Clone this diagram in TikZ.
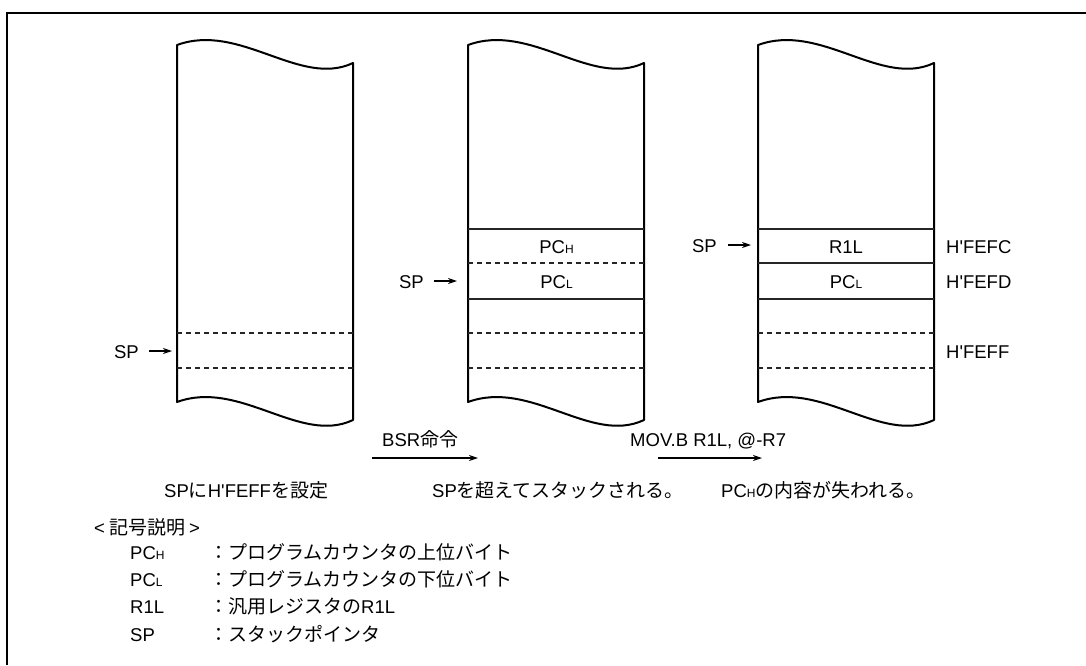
\documentclass[tikz,border=0pt]{standalone}
\usepackage{fontspec}
\newfontfamily\lsans{Liberation Sans}
\newfontfamily\cjk{Noto Sans CJK JP}
\usetikzlibrary{arrows.meta}
\newcommand\jp[1]{{\cjk\fontsize{19}{22}\selectfont #1}}
\newcommand\sub[1]{{\fontsize{12}{12}\selectfont #1}}
\tikzset{
  frame/.style={line width=2pt},
  colline/.style={line width=2pt, line join=round},
  solidrow/.style={line width=1.1pt, draw=black!85},
  dashrow/.style={line width=1.1pt, draw=black!85, dash pattern=on 5pt off 4pt},
  arr/.style={line width=1.1pt, -{Stealth[length=9pt,width=6pt]}},
  txt/.style={inner sep=0pt, font=\lsans\fontsize{18.5}{21}\selectfont},
}
\begin{document}
\begin{tikzpicture}[x=1pt,y=-1pt]
\useasboundingbox (0,0) rectangle (1086,665);
\draw[frame] (7,665) -- (7,13) -- (1086,13);

% columns
\foreach \dx/\n in {177/1,468/2,758/3}{
  \begin{scope}[xshift=\dx pt]
    \draw[colline] (0,402) -- (0,45) .. controls (63,22) and (123,88) .. (176,63)
      -- (176,420) .. controls (123,445) and (63,379) .. (0,402) -- cycle;
    \draw[dashrow] (0,333) -- (176,333);
    \draw[dashrow] (0,368) -- (176,368);
  \end{scope}
}
\begin{scope}[xshift=468pt]
  \draw[solidrow] (0,229) -- (176,229);
  \draw[dashrow] (0,263) -- (176,263);
  \draw[solidrow] (0,299) -- (176,299);
\end{scope}
\begin{scope}[xshift=758pt]
  \draw[solidrow] (0,229) -- (176,229);
  \draw[solidrow] (0,263) -- (176,263);
  \draw[solidrow] (0,299) -- (176,299);
\end{scope}

% SP pointers
\node[txt, anchor=base east] (sp1) at (139,358) {SP};
\coordinate (sp1a) at (149,351); \coordinate (sp1b) at (172,351);
\draw[arr] (sp1a) -- (sp1b);
\node[txt, anchor=base east] (sp2) at (424,288) {SP};
\coordinate (sp2a) at (434,281); \coordinate (sp2b) at (457,281);
\draw[arr] (sp2a) -- (sp2b);
\node[txt, anchor=base east] (sp3) at (717,252) {SP};
\coordinate (sp3a) at (728,245); \coordinate (sp3b) at (751,245);
\draw[arr] (sp3a) -- (sp3b);

% cell contents
\node[txt, anchor=base] (pch2) at (556.5,253) {PC\sub{H}};
\node[txt, anchor=base] (pcl2) at (556.5,288) {PC\sub{L}};
\node[txt, anchor=base] (r1l3) at (846,253) {R1L};
\node[txt, anchor=base] (pcl3) at (846,288) {PC\sub{L}};

% addresses
\node[txt, anchor=base west] (afc) at (946,253) {H'FEFC};
\node[txt, anchor=base west] (afd) at (946,288) {H'FEFD};
\node[txt, anchor=base west] (aff) at (946,358) {H'FEFF};

% transitions
\node[txt, anchor=base west] (bsr) at (382,446) {BSR\jp{命令}};
\coordinate (t1a) at (372,458); \coordinate (t1b) at (478,458);
\draw[arr] (t1a) -- (t1b);
\node[txt, anchor=base west] (mov) at (630,446) {MOV.B R1L, @-R7};
\coordinate (t2a) at (658,458); \coordinate (t2b) at (762,458);
\draw[arr] (t2a) -- (t2b);

% captions
\node[txt, anchor=base west] (c1) at (164,497) {SP\jp{に}H'FEFF\jp{を設定}};
\node[txt, anchor=base west] (c2) at (432,497) {SP\jp{を超えてスタックされる。}};
\node[txt, anchor=base west] (c3) at (721,497) {PC\sub{H}\jp{の内容が失われる。}};

% legend
\node[txt, anchor=base west] (lg) at (94,534) {<\hspace{4pt}\jp{記号説明}\hspace{4pt}>};
\node[txt, anchor=base west] (l1) at (130,559) {PC\sub{H}};
\node[txt, anchor=base west] (l2) at (130,586) {PC\sub{L}};
\node[txt, anchor=base west] (l3) at (130,613) {R1L};
\node[txt, anchor=base west] (l4) at (130,641) {SP};
\node[txt, anchor=base west] (d1) at (209,559) {\jp{：プログラムカウンタの上位バイト}};
\node[txt, anchor=base west] (d2) at (209,586) {\jp{：プログラムカウンタの下位バイト}};
\node[txt, anchor=base west] (d3) at (209,613) {\jp{：汎用レジスタの}R1L};
\node[txt, anchor=base west] (d4) at (209,641) {\jp{：スタックポインタ}};
\end{tikzpicture}
\end{document}
